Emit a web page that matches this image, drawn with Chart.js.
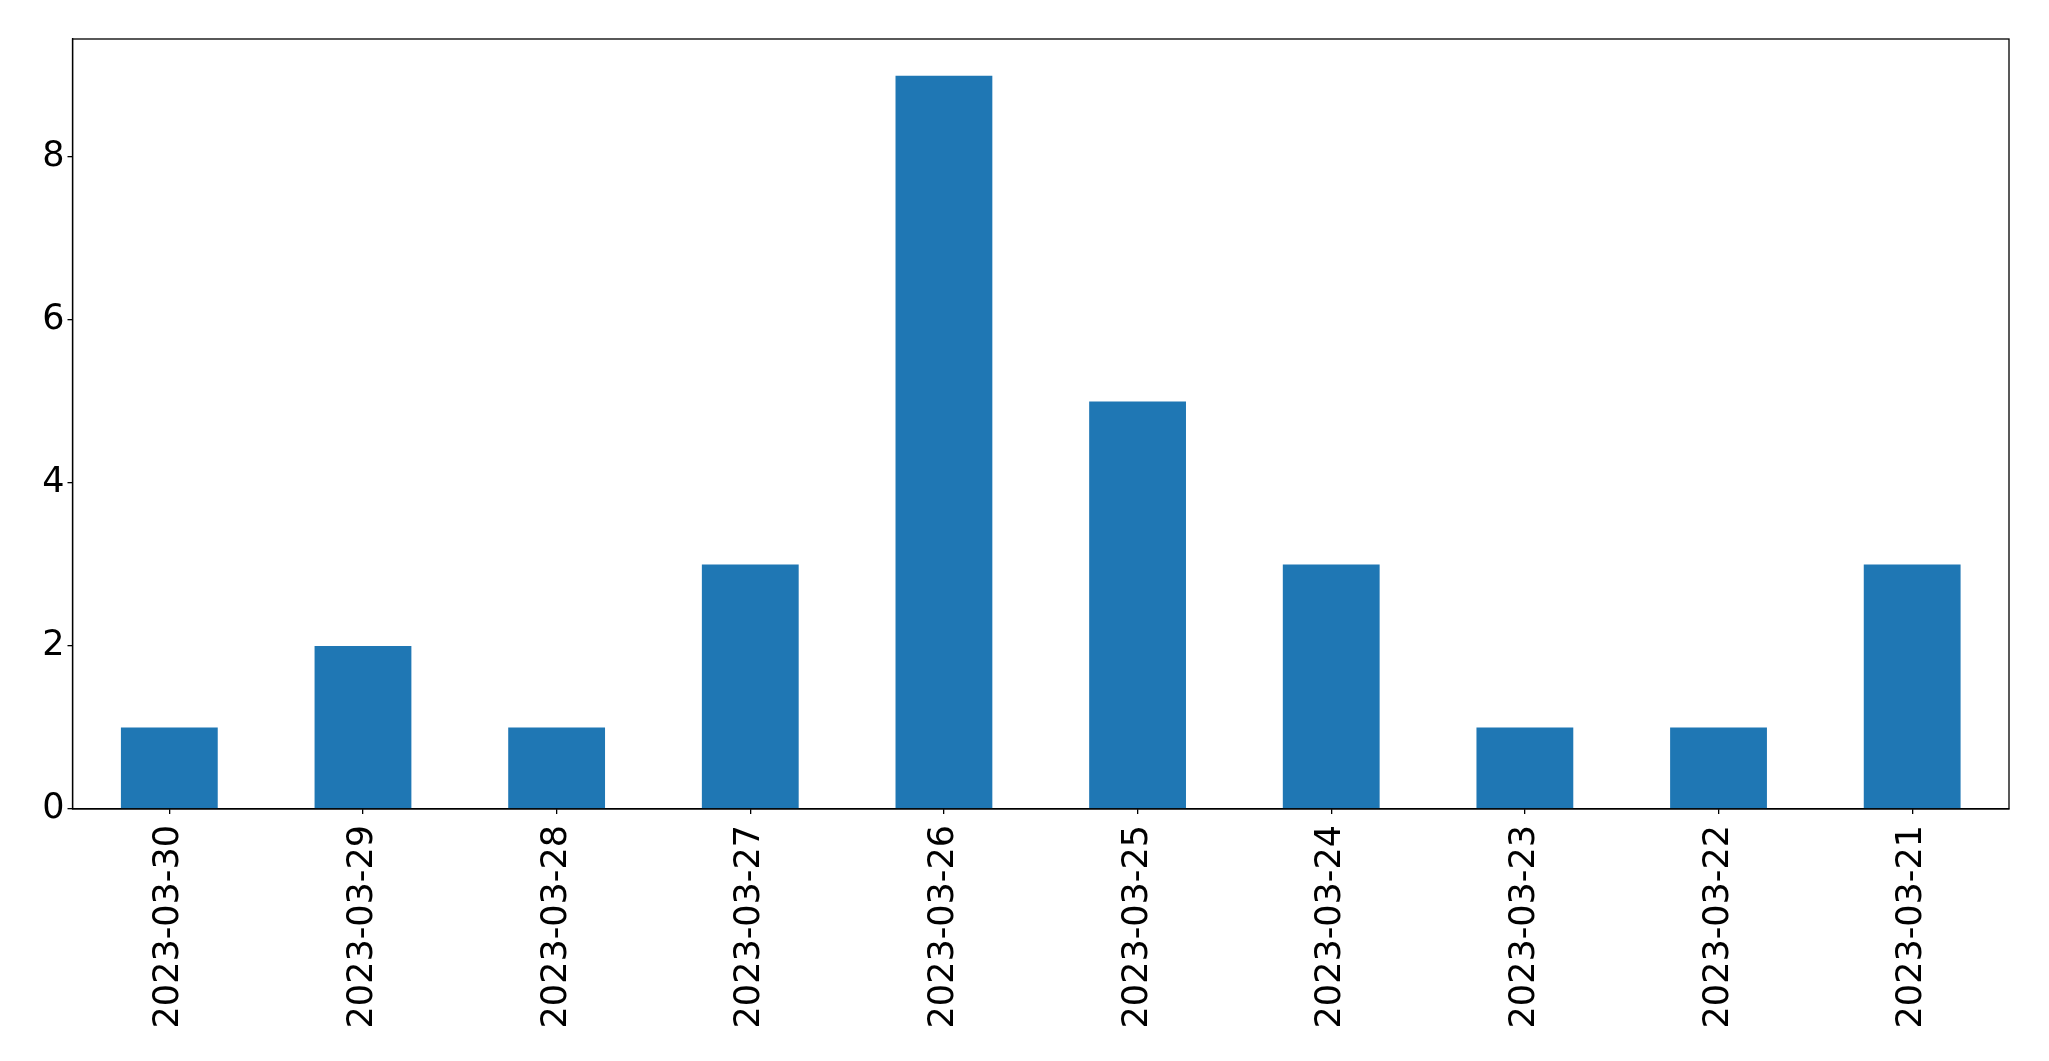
<!DOCTYPE html>
<html>
<head>
<meta charset="utf-8">
<script src="https://cdn.jsdelivr.net/npm/chart.js@4"></script>
<style>
html,body{margin:0;padding:0;background:#fff;}
#c{display:block;}
</style>
</head>
<body>
<canvas id="c" width="2049" height="1061"></canvas>
<script>
const categories = ["2023-03-30","2023-03-29","2023-03-28","2023-03-27","2023-03-26","2023-03-25","2023-03-24","2023-03-23","2023-03-22","2023-03-21"];
const counts = [1,2,1,3,9,5,3,1,1,3];
const yTicks = [0,2,4,6,8];

const frame = {
  id:'frame',
  afterDraw(chart){
    const {ctx, chartArea:a} = chart;
    ctx.save();
    ctx.strokeStyle='#000';
    ctx.lineWidth=1.3;
    ctx.strokeRect(a.left, a.top, a.right-a.left, a.bottom-a.top);
    ctx.restore();
  }
};

new Chart(document.getElementById('c'), {
  type:'bar',
  data:{labels:categories, datasets:[{data:counts, backgroundColor:'#1f77b4', categoryPercentage:1, barPercentage:0.5}]},
  options:{
    responsive:false, animation:false,
    layout:{padding:{left:0, top:39, right:40, bottom:0}},
    plugins:{legend:{display:false}, tooltip:{enabled:false}},
    scales:{
      x:{
        grid:{display:true, offset:false, drawOnChartArea:false, drawTicks:true, tickLength:5, color:'#000', lineWidth:1.3},
        border:{display:true, color:'#000', width:1.3},
        ticks:{color:'#000', font:{family:'DejaVu Sans', size:35}, maxRotation:90, minRotation:90, padding:11, autoSkip:false},
        afterFit(s){ s.height = 252; }
      },
      y:{
        min:0, max:9.45,
        grid:{display:true, drawOnChartArea:false, drawTicks:true, tickLength:5, color:'#000', lineWidth:1.3},
        border:{display:true, color:'#000', width:1.3},
        ticks:{color:'#000', font:{family:'DejaVu Sans', size:35}, padding:3},
        afterBuildTicks(s){ s.ticks = yTicks.map(v=>({value:v})); },
        afterFit(s){ s.width = 72.5; }
      }
    }
  },
  plugins:[frame]
});
</script>
</body>
</html>
